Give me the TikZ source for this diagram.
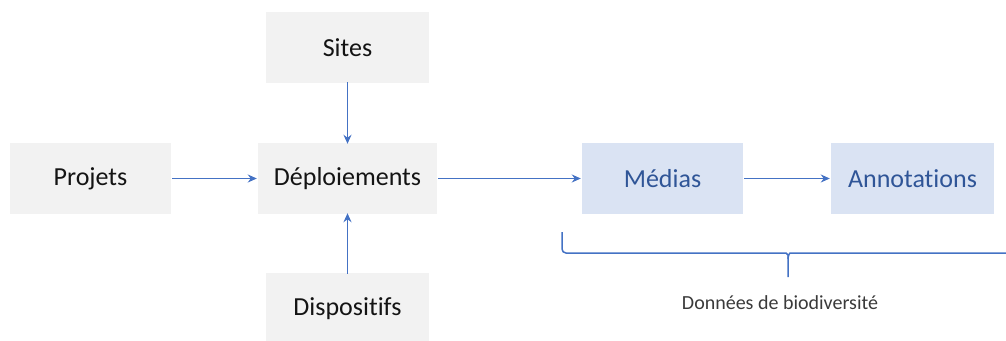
\documentclass[tikz,border=0pt]{standalone}
\usepackage{fontspec}
\setmainfont{Carlito}[Ligatures=NoCommon]
\usetikzlibrary{arrows.meta}
\definecolor{boxgrey}{HTML}{F2F2F2}
\definecolor{boxblue}{HTML}{DAE3F3}
\definecolor{txtblue}{HTML}{2F5597}
\definecolor{linkblue}{HTML}{4472C4}
\definecolor{txtdark}{HTML}{141414}
\definecolor{txtgrey}{HTML}{3A3A3A}
\begin{document}
\begin{tikzpicture}[x=1pt,y=-1pt,
  greybox/.style={fill=boxgrey,draw=none,minimum width=161pt,minimum height=71pt,inner sep=0pt,text=txtdark,font=\fontsize{26}{30}\selectfont},
  bluebox/.style={fill=boxblue,draw=none,minimum width=161pt,minimum height=71pt,inner sep=0pt,text=txtblue,font=\fontsize{26}{30}\selectfont},
  link/.style={draw=linkblue,line width=1.5pt,-{Stealth[length=9pt,width=8pt]}},
  brace/.style={draw=linkblue,line width=1.5pt,rounded corners=4pt}]
\clip (0,0) rectangle (1006,340);
\useasboundingbox (0,0) rectangle (1006,340);
\node[greybox] (projets) at (90.5,178.5) {Projets};
\node[greybox,minimum width=179pt] (deploi) at (347.5,178.5) {Déploiements};
\node[greybox,minimum width=163pt] (sites) at (347.5,47.5) {Sites};
\node[greybox,minimum width=163pt] (dispo) at (347.5,308.5) {Dispositifs};
\node[bluebox] (medias) at (662.5,178.5) {Médias};
\node[bluebox,minimum width=163pt] (annot) at (912.5,178.5) {Annotations};
\draw[link] ([xshift=1pt]projets.east) -- ([xshift=-1pt]deploi.west);
\draw[link] ([xshift=1pt]deploi.east) -- ([xshift=-1pt]medias.west);
\draw[link] ([xshift=1pt]medias.east) -- ([xshift=-1pt]annot.west);
\draw[link] ([yshift=1pt]sites.south) -- ([yshift=-1pt]deploi.north);
\draw[link] ([yshift=-1pt]dispo.north) -- ([yshift=1pt]deploi.south);
\coordinate (bl) at (562,232);
\coordinate (bm) at (788,277);
\coordinate (br) at (1012,253);
\draw[brace] (bl) -- (562,253) -- (782,253) .. controls (786,253) and (788,255) .. (788,259) -- (bm);
\draw[brace] (788,259) .. controls (788,255) and (790,253) .. (794,253) -- (br);
\node[text=txtgrey,font=\fontsize{20}{24}\selectfont] (donnees) at (780,303) {Données de biodiversité};
\end{tikzpicture}
\end{document}
